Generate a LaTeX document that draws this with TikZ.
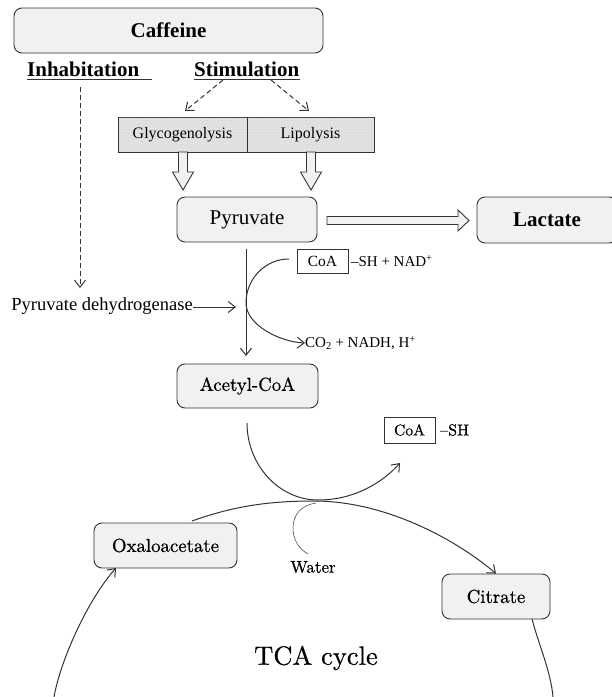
\documentclass[tikz,border=0pt]{standalone}
\usepackage{fontspec}
\newfontfamily\tnr[Ligatures=TeX]{Liberation Serif}
\newfontfamily\lmx[FakeBold=0.6,Ligatures=TeX]{lmroman10-regular.otf}
\usetikzlibrary{arrows.meta,patterns}
\definecolor{boxfill}{HTML}{F0F1F3}
\definecolor{edge}{HTML}{333333}
\definecolor{dotfill}{HTML}{E2E2E2}
\begin{document}
\begin{tikzpicture}[x=1pt,y=-1pt,
  rbox/.style={draw=edge, line width=0.9pt, fill=boxfill, rounded corners=8pt, inner sep=0pt},
  dotbox/.style={draw=edge, line width=0.9pt, fill=dotfill, postaction={pattern=dots, pattern color=black!22}, inner sep=0pt},
  sqbox/.style={draw=edge, line width=0.8pt, fill=white, inner sep=0pt},
  plain/.style={inner sep=0pt},
  arr/.style={draw=edge, line width=1pt, -{Straight Barb[length=7pt,width=11pt]}},
  darr/.style={arr, dash pattern=on 5pt off 3pt},
  blockarr/.style={draw=edge, line width=0.9pt, fill=boxfill},
  tbold/.style={font=\tnr\bfseries\fontsize{21}{25}\selectfont},
  tmed/.style={font=\tnr\fontsize{16}{19}\selectfont},
  tsmall/.style={font=\tnr\fontsize{15}{18}\selectfont},
  lmtxt/.style={font=\lmx\fontsize{18.8}{22}\selectfont}
]
\path[use as bounding box] (0,0) rectangle (612,697);

% top
\node[rbox, tbold, minimum width=309pt, minimum height=45pt] (caf) at (168.5,30.5) {Caffeine};
\node[plain, tbold, anchor=base west] (inh) at (27,76) {Inhabitation};
\node[plain, tbold, anchor=base west] (stim) at (194,76) {Stimulation};
\draw[line width=1.7pt, edge] (27,79.5) -- (152,79.5);
\draw[line width=1.7pt, edge] (194,79.5) -- (300,79.5);

\node[dotbox, tmed, minimum width=129pt, minimum height=35pt] (gly) at (182.5,134.5) {Glycogenolysis};
\node[dotbox, tmed, minimum width=127pt, minimum height=35pt] (lip) at (310.5,134.5) {Lipolysis};

\coordinate (s1) at (223,80);
\coordinate (s2) at (271,80);
\coordinate (g1) at (185,111);
\coordinate (l1) at (309,111);
\draw[darr] (s1) -- (g1);
\draw[darr] (s2) -- (l1);

% hollow block arrows
\draw[blockarr] (178.5,152) -- (187.5,152) -- (187.5,172) -- (193.5,172) -- (183,190) -- (172.5,172) -- (178.5,172) -- cycle;
\draw[blockarr] (306.5,152) -- (315.5,152) -- (315.5,172) -- (321.5,172) -- (311,190) -- (300.5,172) -- (306.5,172) -- cycle;

\node[rbox, font=\tnr\fontsize{21}{25}\selectfont, minimum width=140pt, minimum height=45pt] (pyr) at (247,219.5) {Pyruvate};
\draw[blockarr] (327,216.5) -- (458,216.5) -- (458,210) -- (469,220.5) -- (458,231) -- (458,224.5) -- (327,224.5) -- cycle;
\node[rbox, tbold, minimum width=140pt, minimum height=46pt] (lac) at (547,220) {Lactate};

% pyruvate -> acetyl-CoA
\node[rbox, lmtxt, minimum width=141pt, minimum height=44pt] (acc) at (247.5,386) {Acetyl-CoA};
\draw[arr] (pyr.south -| 246,0) ++(0,7) -- (246,356);

\node[sqbox, font=\tnr\fontsize{15.5}{18}\selectfont, minimum width=51pt, minimum height=24pt] (coa1) at (322.5,261) {CoA};
\node[plain, tsmall, anchor=west] (sh1) at (coa1.east) {\,\textendash SH + NAD\textsuperscript{+}};
\node[plain, tsmall, anchor=west] (co2) at (305,343) {CO\textsubscript{2} + NADH, H\textsuperscript{+}};
\coordinate (c1s) at (289,259);
\draw[arr] (c1s) .. controls (265,259) and (246,279) .. (246,303)
  .. controls (246,325) and (280,342) .. (co2.west);

\node[plain, font=\tnr\fontsize{18.5}{22}\selectfont, anchor=base east] (pdh) at (193,310) {Pyruvate dehydrogenase};
\coordinate (pdhtip) at (236,307);
\draw[arr] (pdh.east |- pdhtip) -- (pdhtip);

\coordinate (inhs) at (80,87);
\coordinate (inht) at (80,288);
\draw[darr] (inhs) -- (inht);

% acetyl-CoA -> CoA-SH
\node[sqbox, font=\lmx\fontsize{15.7}{18}\selectfont, minimum width=51pt, minimum height=26pt] (coa2) at (409.5,430) {CoA};
\node[plain, font=\lmx\fontsize{16}{19}\selectfont, anchor=west] (sh2) at (440,430) {\textendash SH};
\coordinate (a1) at (247,423);
\coordinate (a2) at (400,463);
\draw[arr] (a1) .. controls (247,465) and (279,500) .. (318,500)
  .. controls (355,500) and (383,482) .. (a2);

% TCA
\node[rbox, lmtxt, minimum width=143pt, minimum height=45pt] (oxa) at (165.5,545.5) {Oxaloacetate};
\node[rbox, lmtxt, minimum width=108pt, minimum height=45pt] (cit) at (496,596.5) {Citrate};
\node[plain, font=\lmx\fontsize{26.5}{30}\selectfont] (tca) at (316,658) {TCA cycle};
\node[plain, font=\lmx\fontsize{17}{20}\selectfont] (wat) at (313,567) {Water};

\draw[arr] (192,521) .. controls (234,506) and (269,501) .. (314,501)
  .. controls (384,501) and (454,538) .. (cit.north);
\coordinate (b1) at (553,697);
\draw[draw=edge, line width=1pt] (532,619) .. controls (538.5,644) and (551,672) .. (b1);
\coordinate (b0) at (54,697);
\draw[arr] (b0) .. controls (61,658) and (89,598) .. (116,568);

\draw[draw=edge, line width=0.5pt] (316,503) .. controls (302,505) and (293,514) .. (293,528)
  .. controls (293,540) and (299,549) .. (308,554);
\end{tikzpicture}
\end{document}
